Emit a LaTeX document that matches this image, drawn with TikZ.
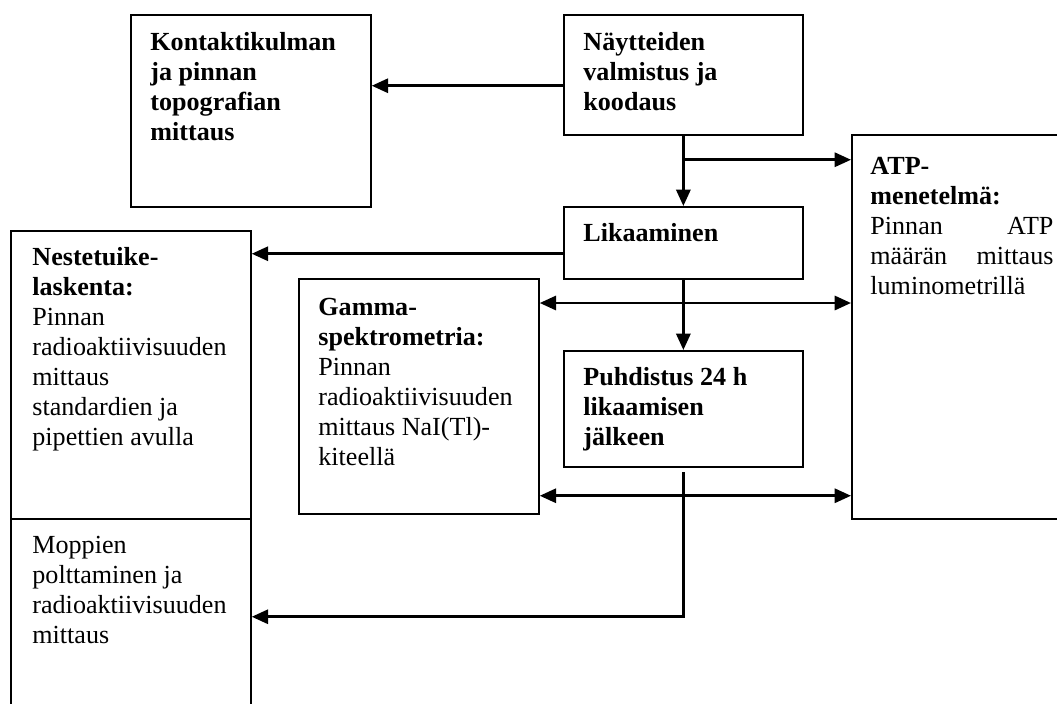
\documentclass[tikz,border=0pt]{standalone}
\usepackage{fontspec}
\setmainfont{Liberation Serif}
\usetikzlibrary{arrows.meta, calc}
\newcommand{\px}{0.46pt}

\begin{document}
\begin{tikzpicture}[x=0.46pt, y=-0.46pt, line join=miter,
  box/.style={draw, line width=.8pt, rectangle, inner sep=0pt, anchor=north west},
  txt/.style={anchor=north west, inner sep=0pt, align=left, font=\fontsize{12}{13.8}\selectfont},
  arr/.style={line width=1.2pt, -{Triangle[length=7.5pt, width=6.5pt]}},
  dbl/.style={line width=1.2pt, {Triangle[length=7.5pt, width=6.5pt]}-{Triangle[length=7.5pt, width=6.5pt]}}]
\useasboundingbox (0,0) rectangle (1057,703);
\clip (0,0) rectangle (1057,703);
% Boxes
\node[box, minimum width=240*\px, minimum height=192*\px] (kont) at (130,14) {};
\node[box, minimum width=239*\px, minimum height=120*\px] (nayt) at (563,14) {};
\node[box, minimum width=239*\px, minimum height=72*\px] (lika) at (563,206) {};
\node[box, minimum width=239*\px, minimum height=116*\px] (puhd) at (563,350) {};
\node[box, minimum width=240*\px, minimum height=235*\px] (gamma) at (298,278) {};
\node[box, minimum width=240*\px, minimum height=288*\px] (nest) at (10,230) {};
\node[box, minimum width=240*\px, minimum height=220*\px] (mopp) at (10,518) {};
\node[box, minimum width=240*\px, minimum height=384*\px] (atp) at (851,134) {};
% Text
\node[txt] (kont-t) at ($(kont.north west)+(20,15)$) {\strut\textbf{Kontaktikulman}\\\textbf{ja pinnan}\\\textbf{topografian}\\\textbf{mittaus}};
\node[txt] (nayt-t) at ($(nayt.north west)+(20,15)$) {\strut\textbf{Näytteiden}\\\textbf{valmistus ja}\\\textbf{koodaus}};
\node[txt] (lika-t) at ($(lika.north west)+(20,14)$) {\strut\textbf{Likaaminen}};
\node[txt] (puhd-t) at ($(puhd.north west)+(20,14)$) {\strut\textbf{Puhdistus 24 h}\\\textbf{likaamisen}\\\textbf{jälkeen}};
\node[txt] (gamma-t) at ($(gamma.north west)+(20,16)$) {\strut\textbf{Gamma-}\\\textbf{spektrometria:}\\Pinnan\\radioaktiivisuuden\\mittaus NaI(Tl)-\\kiteellä};
\node[txt] (nest-t) at ($(nest.north west)+(22,14)$) {\strut\textbf{Nestetuike-}\\\textbf{laskenta:}\\Pinnan\\radioaktiivisuuden\\mittaus\\standardien ja\\pipettien avulla};
\node[txt] (mopp-t) at ($(mopp.north west)+(22,14)$) {\strut Moppien\\polttaminen ja\\radioaktiivisuuden\\mittaus};
\node[txt, text width=183*\px] (atp-t) at ($(atp.north west)+(19,19)$) {\strut\textbf{ATP-}\\\textbf{menetelmä:}\\Pinnan\hfill ATP\\määrän\hfill mittaus\\luminometrillä};
% Arrows
\coordinate (b1) at ($(nayt.south)+(0,24)$);
\coordinate (g1) at ($(gamma.north east)+(0,25)$);
\coordinate (g2) at ($(gamma.south east)+(0,-19)$);
\coordinate (m1) at ($(puhd.south)+(0,149)$);
\draw[arr] ([yshift=-5pt]nayt.west) -- ([yshift=-5pt]nayt.west -| kont.east);
\draw[arr] (nayt.south) -- (lika.north);
\draw[arr] (b1) -- (b1 -| atp.west);
\draw[arr] ([yshift=-5pt]lika.west) -- ([yshift=-5pt]lika.west -| nest.east);
\draw[arr] (lika.south) -- (puhd.north);
\draw[dbl] (g1) -- (g1 -| atp.west);
\draw[dbl] (g2) -- (g2 -| atp.west);
\draw[arr] ([yshift=-2pt]puhd.south) -- (m1) -- (m1 -| mopp.east);
\end{tikzpicture}
\end{document}
